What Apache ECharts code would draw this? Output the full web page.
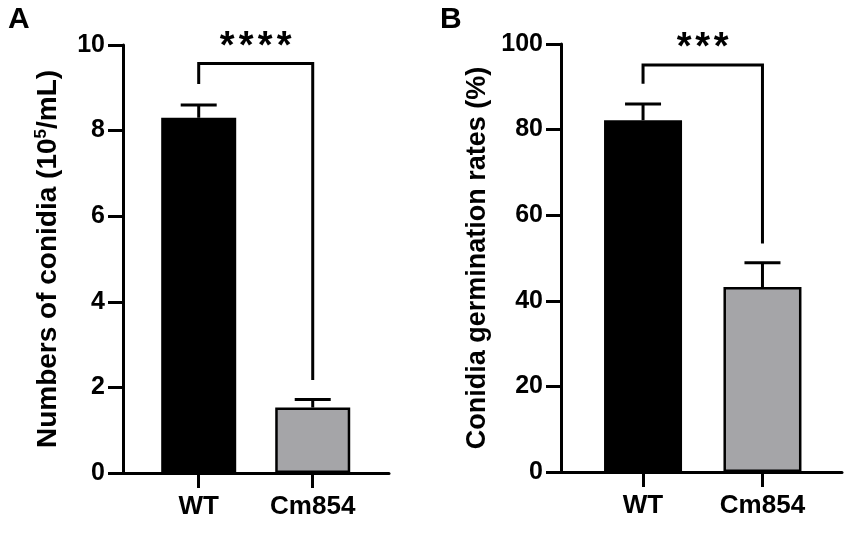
<!DOCTYPE html>
<html>
	<head>
		<meta charset="utf-8" />
		<title>Conidia</title>
		<script type="text/javascript" src="https://cdn.jsdelivr.net/npm/echarts@6/dist/echarts.min.js"></script>
		<style>
			html, body { margin: 0; padding: 0; background: #fff; }
			#main { width: 851px; height: 535px; }
		</style>
	</head>
	<body>
		<div id="main"></div>
		<script type="text/javascript">
			// data
			var groups = ['WT', 'Cm854'];
			var barColors = ['#000000', '#a5a5a8'];

			var conidiaMean = [8.30, 1.53];
			var conidiaSd = [0.30, 0.19];
			var conidiaTicks = [0, 2, 4, 6, 8, 10];
			var conidiaBracket = [9.09, 9.57, 2.17];   // left end, top, right end
			var conidiaStars = 4;

			var germMean = [82.2, 43.2];
			var germSd = [3.8, 5.7];
			var germTicks = [0, 20, 40, 60, 80, 100];
			var germBracket = [90.7, 95.1, 53.4];
			var germStars = 3;

			var font = 'Arial, "Liberation Sans", sans-serif';

			function barData(means) {
				return means.map(function (v, i) {
					return { value: [i, v], itemStyle: { color: barColors[i] } };
				});
			}

			function errData(means, sds) {
				return means.map(function (v, i) { return [i, v, v + sds[i]]; });
			}

			function errorBars(xi, yi, means, sds) {
				return {
					type: 'custom',
					xAxisIndex: xi, yAxisIndex: yi,
					data: errData(means, sds),
					encode: { x: 0, y: [1, 2] },
					z: 1,
					renderItem: function (params, api) {
						var b = api.coord([api.value(0), api.value(1)]);
						var t = api.coord([api.value(0), api.value(2)]);
						var st = { stroke: '#000', lineWidth: 3 };
						return {
							type: 'group',
							children: [
								{ type: 'line', shape: { x1: t[0], y1: b[1], x2: t[0], y2: t[1] }, style: st },
								{ type: 'line', shape: { x1: t[0] - 18, y1: t[1], x2: t[0] + 18, y2: t[1] }, style: st }
							]
						};
					}
				};
			}

			function bracket(xi, yi, br, nStars, pitch) {
				return {
					type: 'custom',
					xAxisIndex: xi, yAxisIndex: yi,
					data: [[0, 1, br[0], br[1], br[2]]],
					encode: { x: [0, 1], y: [2, 3, 4] },
					renderItem: function (params, api) {
						var a = api.coord([api.value(0), api.value(2)]);
						var b = api.coord([api.value(0), api.value(3)]);
						var c = api.coord([api.value(1), api.value(3)]);
						var d = api.coord([api.value(1), api.value(4)]);
						var kids = [{
							type: 'polyline',
							shape: { points: [a, b, c, d] },
							style: { stroke: '#000', lineWidth: 3, fill: null }
						}];
						var mid = (b[0] + c[0]) / 2;
						for (var k = 0; k < nStars; k++) {
							kids.push({
								type: 'text',
								x: mid + (k - (nStars - 1) / 2) * pitch, y: b[1] + 3,
								style: {
									text: '*', fill: '#000',
									font: 'bold 38px ' + font,
									align: 'center', verticalAlign: 'bottom'
								}
							});
						}
						return { type: 'group', children: kids };
					}
				};
			}

			var myChart = echarts.init(document.getElementById('main'), null, { renderer: 'canvas' });

			function xAxisFor(gi, min, max) {
				return {
					type: 'value', gridIndex: gi,
					min: min, max: max,
					splitLine: { show: false },
					axisLine: { onZero: false, lineStyle: { color: '#000', width: 3 } },
					axisTick: { customValues: [0, 1], length: 15, lineStyle: { color: '#000', width: 3 } },
					axisLabel: {
						customValues: [0, 1], margin: 21,
						color: '#000', fontFamily: font, fontWeight: 'bold', fontSize: 26,
						formatter: function (v) { return groups[Math.round(v)]; }
					}
				};
			}

			function yAxisFor(gi, ticks, name, gap, nameSize) {
				return {
					type: 'value', gridIndex: gi,
					min: ticks[0], max: ticks[ticks.length - 1], interval: ticks[1] - ticks[0],
					splitLine: { show: false },
					axisLine: { show: true, onZero: false, lineStyle: { color: '#000', width: 3 } },
					axisTick: { show: true, length: 15, lineStyle: { color: '#000', width: 3 } },
					axisLabel: { margin: 18, color: '#000', fontFamily: font, fontWeight: 'bold', fontSize: 25 },
					name: name,
					nameLocation: 'middle',
					nameGap: gap,
					nameRotate: 90,
					nameTextStyle: {
						color: '#000', fontFamily: font, fontWeight: 'bold', fontSize: nameSize,
						rich: {
							sup: { color: '#000', fontFamily: font, fontWeight: 'bold', fontSize: 17, padding: [0, 0, 13, 0] }
						}
					}
				};
			}

			var option = {
				animation: false,
				backgroundColor: '#fff',
				grid: [
					{ left: 123, top: 45, width: 266, height: 428 },
					{ left: 561, top: 44, width: 281, height: 428 }
				],
				xAxis: [
					xAxisFor(0, -0.664, 1.669),
					xAxisFor(1, -0.687, 1.666)
				],
				yAxis: [
					yAxisFor(0, conidiaTicks, 'Numbers of conidia (10{sup|5}/mL)', 60, 28),
					yAxisFor(1, germTicks, 'Conidia germination rates (%)', 70, 27)
				],
				graphic: [
					{ type: 'text', left: 8, top: 5, style: { text: 'A', font: 'bold 30px ' + font, fill: '#000' } },
					{ type: 'text', left: 440, top: 5, style: { text: 'B', font: 'bold 30px ' + font, fill: '#000' } }
				],
				series: [
					{
						type: 'bar', xAxisIndex: 0, yAxisIndex: 0,
						data: barData(conidiaMean), barWidth: 75, z: 2,
						itemStyle: { borderColor: '#000', borderWidth: 2.5 }
					},
					errorBars(0, 0, conidiaMean, conidiaSd),
					bracket(0, 0, conidiaBracket, conidiaStars, 19),
					{
						type: 'bar', xAxisIndex: 1, yAxisIndex: 1,
						data: barData(germMean), barWidth: 78, z: 2,
						itemStyle: { borderColor: '#000', borderWidth: 2.5 }
					},
					errorBars(1, 1, germMean, germSd),
					bracket(1, 1, germBracket, germStars, 18.5)
				]
			};
			myChart.setOption(option);
		</script>
	</body>
</html>
